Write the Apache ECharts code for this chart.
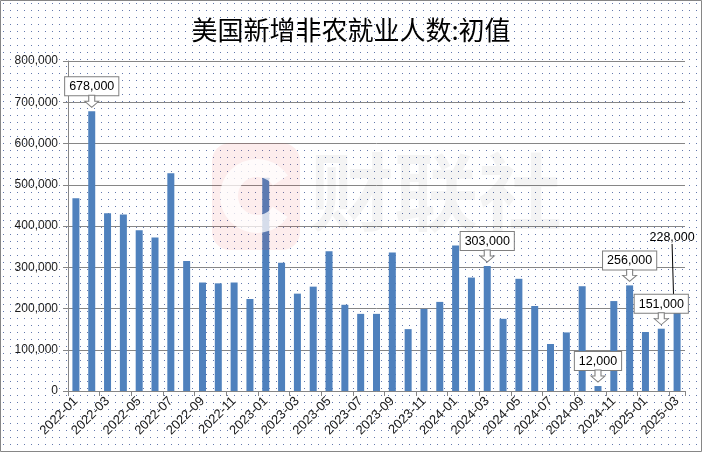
<!DOCTYPE html>
<html>
<head>
<meta charset="utf-8">
<script src="https://cdn.jsdelivr.net/npm/echarts@6/dist/echarts.min.js"></script>
<style>
html,body{margin:0;padding:0;background:#fff;}
#main{width:702px;height:452px;}
</style>
</head>
<body>
<div id="main"></div>
<script>
var titleText = '美国新增非农就业人数:初值';
var categories = ['2022-01','2022-02','2022-03','2022-04','2022-05','2022-06','2022-07','2022-08','2022-09','2022-10','2022-11','2022-12',
'2023-01','2023-02','2023-03','2023-04','2023-05','2023-06','2023-07','2023-08','2023-09','2023-10','2023-11','2023-12',
'2024-01','2024-02','2024-03','2024-04','2024-05','2024-06','2024-07','2024-08','2024-09','2024-10','2024-11','2024-12',
'2025-01','2025-02','2025-03'];
var values = [467000,678000,431000,428000,390000,372000,528000,315000,263000,261000,263000,223000,
517000,311000,236000,253000,339000,209000,187000,187000,336000,150000,199000,216000,
353000,275000,303000,175000,272000,206000,114000,142000,254000,12000,218000,256000,
143000,151000,228000];
var calloutIdx = [1, 26, 33, 35, 37];   // boxed callouts with arrow
var leaderIdx = [38];                   // plain label with leader line
var yTicks = [0,100000,200000,300000,400000,500000,600000,700000,800000];

function fmt(v){ return String(v).replace(/\B(?=(\d{3})+(?!\d))/g, ','); }

// dotted background pattern
var pc = document.createElement('canvas');
pc.width = 7; pc.height = 7;
var pctx = pc.getContext('2d');
pctx.fillStyle = '#ffffff'; pctx.fillRect(0,0,7,7);
pctx.fillStyle = '#6479ad'; pctx.fillRect(3,3,1,1);

var FONT = 'Liberation Sans, Arial, sans-serif';
var boxLabel = {
  show: true, position: 'top', distance: 16,
  formatter: function(p){ return fmt(p.value); },
  backgroundColor: '#ffffff', borderColor: '#7f7f7f', borderWidth: 1,
  padding: [3,4,2,4], color: '#000', fontSize: 12.5, fontFamily: FONT
};
var seriesData = values.map(function(v, i){
  var item = { value: v };
  if (calloutIdx.indexOf(i) >= 0) {
    item.label = boxLabel;
  } else if (leaderIdx.indexOf(i) >= 0) {
    item.label = { show: true, position: 'top', distance: 5,
      formatter: function(p){ return fmt(p.value); },
      color: '#000', fontSize: 12.5, fontFamily: FONT };
    item.labelLine = { show: true, lineStyle: { color: '#000', width: 1 } };
  }
  return item;
});
var arrowData = calloutIdx.map(function(i){ return { coord: [categories[i], values[i]] }; });

var chart = echarts.init(document.getElementById('main'));
chart.setOption({
  animation: false,
  backgroundColor: '#ffffff',
  graphic: [
    { type: 'rect', z: -100, silent: true, shape: { x: 0, y: 0, width: 702, height: 452 },
      style: { fill: { image: pc, repeat: 'repeat' } } },
    { type: 'rect', z: 100, silent: true, shape: { x: 0.5, y: 0.5, width: 701, height: 451 },
      style: { fill: 'none', stroke: '#868686', lineWidth: 1 } },
    { type: 'rect', z: 50, silent: true, shape: { x: 212, y: 143, width: 88, height: 107, r: 18 },
      style: { fill: 'rgba(235,60,60,0.09)' } },
    { type: 'arc', z: 51, silent: true, shape: { cx: 257, cy: 196, r: 28, startAngle: 0.6, endAngle: 5.7 },
      style: { stroke: 'rgba(255,255,255,0.75)', lineWidth: 18, fill: 'none' } },
    { type: 'text', z: 50, silent: true, left: 310, top: 150,
      style: { text: '财联社', fontSize: 84, fontWeight: 'bold', fontFamily: 'Noto Sans CJK SC',
        fill: 'rgba(0,0,0,0.045)' } }
  ],
  title: {
    text: titleText, left: 'center', top: 12,
    textStyle: { fontSize: 26, fontWeight: 'normal', color: '#000', fontFamily: 'Noto Sans CJK SC' }
  },
  grid: { left: 68, right: 17, top: 61, bottom: 61, containLabel: false },
  xAxis: {
    type: 'category', data: categories, boundaryGap: true,
    axisLine: { show: true, lineStyle: { color: '#868686', width: 1 } },
    axisTick: { show: true, interval: 1, length: 5, alignWithLabel: false, lineStyle: { color: '#868686' } },
    axisLabel: { interval: 1, rotate: 45, fontSize: 13, color: '#1a1a1a', margin: 8, fontFamily: FONT },
    splitLine: { show: false }
  },
  yAxis: {
    type: 'value', min: yTicks[0], max: yTicks[yTicks.length-1], interval: yTicks[1]-yTicks[0],
    axisLine: { show: true, lineStyle: { color: '#868686', width: 1 } },
    axisTick: { show: true, length: 5, lineStyle: { color: '#868686' } },
    axisLabel: { fontSize: 12, color: '#1a1a1a', margin: 10, formatter: function(v){ return fmt(v); },
      fontFamily: FONT },
    splitLine: { show: true, lineStyle: { color: '#868686', width: 1 } }
  },
  series: [{
    type: 'bar', data: seriesData, barWidth: 7,
    itemStyle: { color: '#4f81bd' },
    label: { show: false },
    labelLayout: function(p){
      if (leaderIdx.indexOf(p.dataIndex) >= 0) { return { dx: -5, dy: -48 }; }
      return {};
    },
    markPoint: {
      symbol: 'path://M4,0L10,0L10,6L14,6L7,12L0,6L4,6Z',
      symbolSize: [14, 12], symbolOffset: [0, -10],
      itemStyle: { color: '#ffffff', borderColor: '#7f7f7f', borderWidth: 1 },
      label: { show: false },
      data: arrowData
    }
  }]
});
</script>
</body>
</html>
